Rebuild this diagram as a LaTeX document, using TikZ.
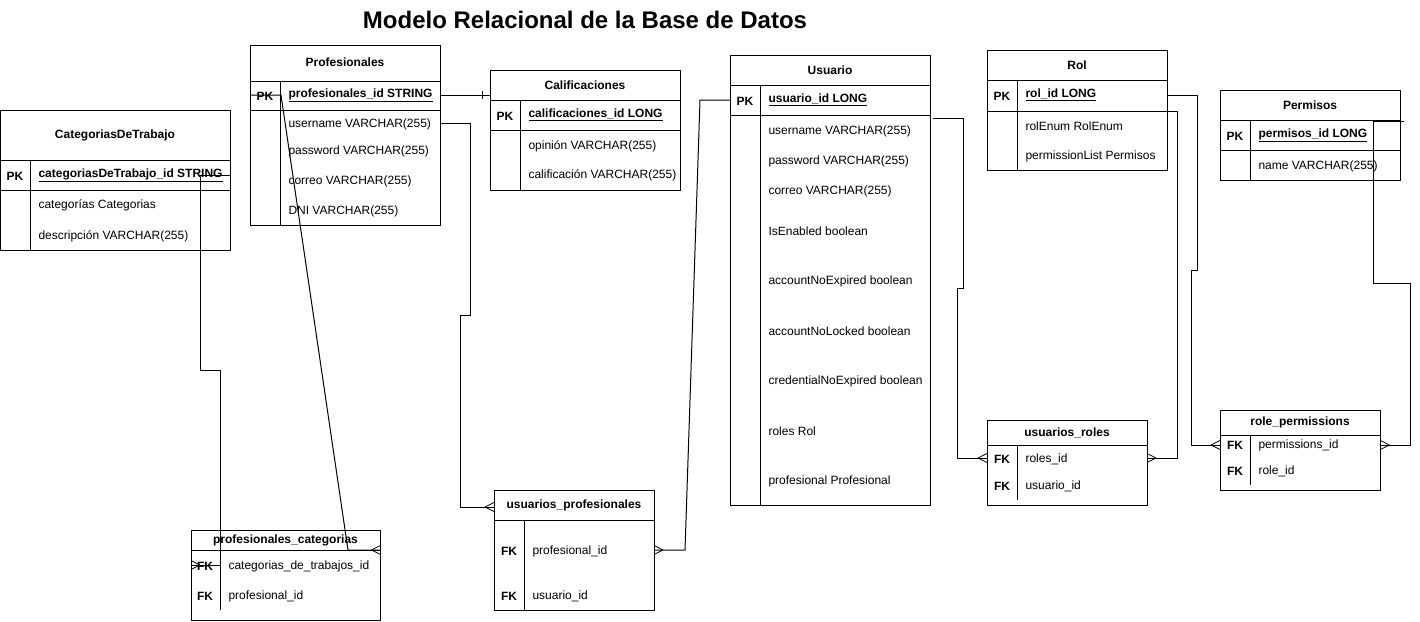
\documentclass[tikz,border=0pt]{standalone}
\usepackage{fontspec}
\setmainfont{Liberation Sans}
\begin{document}
\begin{tikzpicture}[x=1pt,y=-1pt,line width=1pt,
  tbl/.style={draw=black,line width=1pt},
  hdr/.style={font=\fontsize{12}{14}\selectfont\bfseries,inner sep=0pt},
  keyt/.style={font=\fontsize{12}{14}\selectfont\bfseries,inner sep=0pt,yshift=-1pt},
  fld/.style={font=\fontsize{12}{14}\selectfont,anchor=west,inner sep=0pt,yshift=-1pt},
  pkf/.style={font=\fontsize{12}{14}\selectfont\bfseries,anchor=west,inner sep=0pt},
  conn/.style={draw=black,line width=1pt},
  crow/.pic={\draw[line width=0.8pt] (-9,0)--(0,-4.5) (-9,0)--(0,4.5);}
]
\useasboundingbox (0,0) rectangle (1420,621);
\fill[white] (0,0) rectangle (1420,621);

% Title
\node[font=\fontsize{24}{28}\selectfont\bfseries,inner sep=0pt] (title) at (585,20) {Modelo Relacional de la Base de Datos};

% ---------- CategoriasDeTrabajo ----------
\draw[tbl] (0.5,110) rectangle (230,250);
\draw[tbl] (0.5,160) -- (230,160) (0.5,190) -- (230,190) (30,160) -- (30,250);
\node[hdr] (catH) at (115,135) {CategoriasDeTrabajo};
\node[keyt] (catK) at (15,175) {PK};
\node[pkf] (catPK) at (38,175) {\underline{categoriasDeTrabajo\_id STRING}};
\node[fld] (catF1) at (38,204) {categorías Categorias};
\node[fld] (catF2) at (38,235) {descripción VARCHAR(255)};

% ---------- Profesionales ----------
\draw[tbl] (250,45) rectangle (440,225);
\draw[tbl] (250,81) -- (440,81) (250,110) -- (440,110) (280,81) -- (280,225);
\node[hdr] (proH) at (345,62) {Profesionales};
\node[keyt] (proK) at (265,95) {PK};
\node[pkf] (proPK) at (288,95) {\underline{profesionales\_id STRING}};
\node[fld] (proF1) at (288,123) {username VARCHAR(255)};
\node[fld] (proF2) at (288,150) {password VARCHAR(255)};
\node[fld] (proF3) at (288,180) {correo VARCHAR(255)};
\node[fld] (proF4) at (288,210) {DNI VARCHAR(255)};

% ---------- Calificaciones ----------
\draw[tbl] (490,70) rectangle (680,190);
\draw[tbl] (490,100) -- (680,100) (490,130) -- (680,130) (520,100) -- (520,190);
\node[hdr] (calH) at (585,85) {Calificaciones};
\node[keyt] (calK) at (505,115) {PK};
\node[pkf] (calPK) at (528,115) {\underline{calificaciones\_id LONG}};
\node[fld] (calF1) at (528,145) {opinión VARCHAR(255)};
\node[fld] (calF2) at (528,174) {calificación VARCHAR(255)};

% ---------- Usuario ----------
\draw[tbl] (730,55) rectangle (930,505);
\draw[tbl] (730,85) -- (930,85) (730,115) -- (930,115) (760,85) -- (760,505);
\node[hdr] (usuH) at (830,70) {Usuario};
\node[keyt] (usuK) at (745,100) {PK};
\node[pkf] (usuPK) at (768,100) {\underline{usuario\_id LONG}};
\node[fld] (usuF1) at (768,130) {username VARCHAR(255)};
\node[fld] (usuF2) at (768,160) {password VARCHAR(255)};
\node[fld] (usuF3) at (768,190) {correo VARCHAR(255)};
\node[fld] (usuF4) at (768,230) {IsEnabled boolean};
\node[fld] (usuF5) at (768,280) {accountNoExpired boolean};
\node[fld] (usuF6) at (768,330) {accountNoLocked boolean};
\node[fld] (usuF7) at (768,380) {credentialNoExpired boolean};
\node[fld] (usuF8) at (768,430) {roles Rol};
\node[fld] (usuF9) at (768,480) {profesional Profesional};

% ---------- Rol ----------
\draw[tbl] (987,50) rectangle (1167,170);
\draw[tbl] (987,80) -- (1167,80) (987,111) -- (1167,111) (1017,80) -- (1017,170);
\node[hdr] (rolH) at (1077,65) {Rol};
\node[keyt] (rolK) at (1002,95) {PK};
\node[pkf] (rolPK) at (1025,95) {\underline{rol\_id LONG}};
\node[fld] (rolF1) at (1025,125) {rolEnum RolEnum};
\node[fld] (rolF2) at (1025,155) {permissionList Permisos};

% ---------- Permisos ----------
\draw[tbl] (1220,90) rectangle (1400,180);
\draw[tbl] (1220,120) -- (1400,120) (1220,150) -- (1400,150) (1250,120) -- (1250,180);
\node[hdr] (perH) at (1310,105) {Permisos};
\node[keyt] (perK) at (1235,135) {PK};
\node[pkf] (perPK) at (1258,135) {\underline{permisos\_id LONG}};
\node[fld] (perF1) at (1258,165) {name VARCHAR(255)};

% ---------- profesionales_categorias ----------
\draw[tbl] (191,530) rectangle (380,620);
\draw[tbl] (191,550) -- (380,550) (220,550) -- (220,610);
\node[hdr] (pcH) at (285.5,540) {profesionales\_categorias};
\node[keyt] (pcK1) at (205,565) {FK};
\node[keyt] (pcK2) at (205,595) {FK};
\node[fld] (pcF1) at (228,565) {categorias\_de\_trabajos\_id};
\node[fld] (pcF2) at (228,595) {profesional\_id};

% ---------- usuarios_profesionales ----------
\draw[tbl] (494,490) rectangle (654,610);
\draw[tbl] (494,520) -- (654,520) (524,520) -- (524,610);
\node[hdr] (upH) at (574,505) {usuarios\_profesionales};
\node[keyt] (upK1) at (509,550) {FK};
\node[keyt] (upK2) at (509,595) {FK};
\node[fld] (upF1) at (532,550) {profesional\_id};
\node[fld] (upF2) at (532,595) {usuario\_id};

% ---------- usuarios_roles ----------
\draw[tbl] (987,420) rectangle (1147,505);
\draw[tbl] (987,445) -- (1147,445) (1017,445) -- (1017,500);
\node[hdr] (urH) at (1067,432.5) {usuarios\_roles};
\node[keyt] (urK1) at (1002,458) {FK};
\node[keyt] (urK2) at (1002,485) {FK};
\node[fld] (urF1) at (1025,458) {roles\_id};
\node[fld] (urF2) at (1025,485) {usuario\_id};

% ---------- role_permissions ----------
\draw[tbl] (1220,410) rectangle (1380,490);
\draw[tbl] (1220,435) -- (1380,435) (1250,435) -- (1250,485);
\node[hdr] (rpH) at (1300,422) {role\_permissions};
\node[keyt] (rpK1) at (1235,444) {FK};
\node[keyt] (rpK2) at (1235,470) {FK};
\node[fld] (rpF1) at (1258,444) {permissions\_id};
\node[fld] (rpF2) at (1258,470) {role\_id};

% ---------- connector end points ----------
\coordinate (c1s) at (230,175);   \coordinate (c1e) at (191,565);
\coordinate (c2s) at (250,95);    \coordinate (c2e) at (380.5,550);
\coordinate (c3s) at (440,95);    \coordinate (c3e) at (490,95);
\coordinate (c4s) at (440,123);   \coordinate (c4e) at (494,507);
\coordinate (c5s) at (730,100);   \coordinate (c5e) at (654,550);
\coordinate (c6s) at (933,118);   \coordinate (c6e) at (987,458);
\coordinate (c7s) at (1167,95);   \coordinate (c7e) at (1220,445);
\coordinate (c8s) at (1167,111);  \coordinate (c8e) at (1147,458);
\coordinate (c9s) at (1404,121.5);\coordinate (c9e) at (1380.5,445);

% ---------- connectors ----------
\draw[conn] (c1s) -- (200,175) -- (200,370) -- (220,370) |- (c1e);
\pic[rotate=180] at (c1e) {crow};

\draw[conn] (c2s) -- (281,95) -- (348,550) -- (c2e);
\pic at (c2e) {crow};

\draw[conn] (c3s) -- (c3e);
\draw[conn] (482,91) -- (482,99);

\draw[conn] (c4s) -- (470,123) -- (470,315) -- (460,315) |- (c4e);
\pic at (c4e) {crow};

\draw[conn] (c5s) -- (700,100) -- (685,550) -- (c5e);
\pic[rotate=180] at (c5e) {crow};

\draw[conn] (c6s) -- (963,118) -- (963,288) -- (957,288) |- (c6e);
\pic at (c6e) {crow};

\draw[conn] (c7s) -- (1197,95) -- (1197,270) -- (1191,270) |- (c7e);
\pic at (c7e) {crow};

\draw[conn] (c8s) -- (1177,111) |- (c8e);
\pic[rotate=180] at (c8e) {crow};

\draw[conn] (c9s) -- (1373,121.5) -- (1373,283) -- (1410.5,283) |- (c9e);
\pic[rotate=180] at (c9e) {crow};
\end{tikzpicture}
\end{document}
